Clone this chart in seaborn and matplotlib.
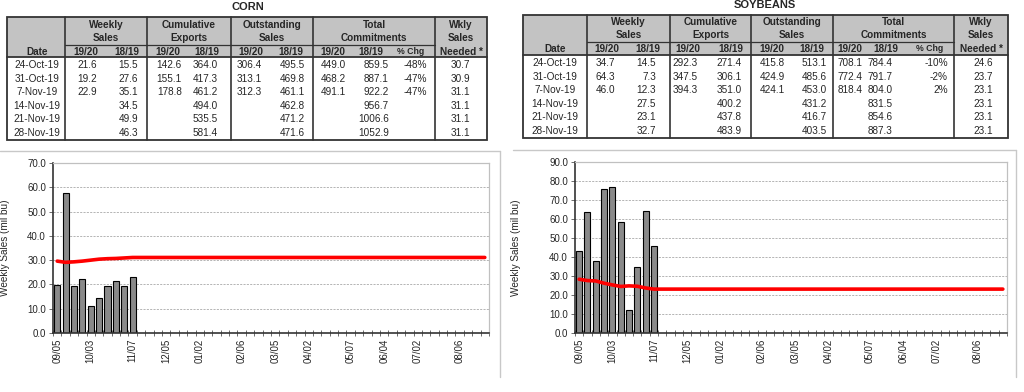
import numpy as np
import pandas as pd
import seaborn as sns
import matplotlib.pyplot as plt
from matplotlib.patches import Rectangle

sns.set_theme(style="white")
plt.rcParams['font.family'] = ['Liberation Sans', 'DejaVu Sans']

# ---- chart data ----
weeks = ['09/05', '09/12', '09/19', '09/26', '10/03', '10/10', '10/17', '10/24', '10/31',
         '11/07', '11/14', '11/21', '11/28', '12/05', '12/12', '12/19', '12/26',
         '01/02', '01/09', '01/16', '01/23', '01/30', '02/06', '02/13', '02/20', '02/27',
         '03/05', '03/12', '03/19', '03/26', '04/02', '04/09', '04/16', '04/23', '04/30',
         '05/07', '05/14', '05/21', '05/28', '06/04', '06/11', '06/18', '06/25',
         '07/02', '07/09', '07/16', '07/23', '07/30', '08/06', '08/13', '08/20', '08/27']
tick_weeks = ['09/05', '10/03', '11/07', '12/05', '01/02', '02/06', '03/05', '04/02',
              '05/07', '06/04', '07/02', '08/06']

corn_sales = [19.6, 57.8, 19.4, 22.2, 11.1, 14.5, 19.3, 21.6, 19.2, 22.9]
corn_needed = [29.6, 29.1, 29.3, 29.6, 30.0, 30.4, 30.6, 30.7, 30.9, 31.1,
               31.1, 31.1, 31.1, 31.1, 31.1, 31.1, 31.1, 31.1, 31.1, 31.1, 31.1,
               31.1, 31.1, 31.1, 31.1, 31.1, 31.1, 31.1, 31.1, 31.1, 31.1, 31.1,
               31.1, 31.1, 31.1, 31.1, 31.1, 31.1, 31.1, 31.1, 31.1, 31.1, 31.1,
               31.1, 31.1, 31.1, 31.1, 31.1, 31.1, 31.1, 31.1, 31.1]

soy_sales = [42.9, 63.5, 37.9, 76.0, 76.9, 58.6, 12.3, 34.7, 64.3, 46.0]
soy_needed = [28.3, 27.6, 27.4, 26.2, 25.3, 24.5, 24.8, 24.6, 23.7, 23.1,
              23.1, 23.1, 23.1, 23.1, 23.1, 23.1, 23.1, 23.1, 23.1, 23.1, 23.1,
              23.1, 23.1, 23.1, 23.1, 23.1, 23.1, 23.1, 23.1, 23.1, 23.1, 23.1,
              23.1, 23.1, 23.1, 23.1, 23.1, 23.1, 23.1, 23.1, 23.1, 23.1, 23.1,
              23.1, 23.1, 23.1, 23.1, 23.1, 23.1, 23.1, 23.1, 23.1]

# ---- table data ----
dates = ['24-Oct-19', '31-Oct-19', '7-Nov-19', '14-Nov-19', '21-Nov-19', '28-Nov-19']
groups = [['Weekly', 'Sales'], ['Cumulative', 'Exports'], ['Outstanding', 'Sales'],
          ['Total', 'Commitments'], ['Wkly', 'Sales', 'Needed *']]
subheads = ['19/20', '18/19', '19/20', '18/19', '19/20', '18/19', '19/20', '18/19', '% Chg']

corn_cols = [
    ['21.6', '19.2', '22.9', '', '', ''],
    ['15.5', '27.6', '35.1', '34.5', '49.9', '46.3'],
    ['142.6', '155.1', '178.8', '', '', ''],
    ['364.0', '417.3', '461.2', '494.0', '535.5', '581.4'],
    ['306.4', '313.1', '312.3', '', '', ''],
    ['495.5', '469.8', '461.1', '462.8', '471.2', '471.6'],
    ['449.0', '468.2', '491.1', '', '', ''],
    ['859.5', '887.1', '922.2', '956.7', '1006.6', '1052.9'],
    ['-48%', '-47%', '-47%', '', '', ''],
]
corn_need = ['30.7', '30.9', '31.1', '31.1', '31.1', '31.1']

soy_cols = [
    ['34.7', '64.3', '46.0', '', '', ''],
    ['14.5', '7.3', '12.3', '27.5', '23.1', '32.7'],
    ['292.3', '347.5', '394.3', '', '', ''],
    ['271.4', '306.1', '351.0', '400.2', '437.8', '483.9'],
    ['415.8', '424.9', '424.1', '', '', ''],
    ['513.1', '485.6', '453.0', '431.2', '416.7', '403.5'],
    ['708.1', '772.4', '818.4', '', '', ''],
    ['784.4', '791.7', '804.0', '831.5', '854.6', '887.3'],
    ['-10%', '-2%', '2%', '', '', ''],
]
soy_need = ['24.6', '23.7', '23.1', '23.1', '23.1', '23.1']

fig = plt.figure(figsize=(10.24, 3.92), dpi=100)
fig.patch.set_facecolor('white')

# overlay in pixel coords for tables and panel frames
over = fig.add_axes([0, 0, 1, 1])
over.set_xlim(0, 1024)
over.set_ylim(392, 0)
over.axis('off')

line_col = '#333333'
fs = 7.2


def draw_table(title, title_xy, edges, ys, hdr_y, row0, sub_x, val_x, date_x, need_x,
               cols, need):
    top, mid, sub, bot = ys
    over.text(title_xy[0], title_xy[1], title, ha='center', va='center',
              fontsize=8, fontweight='bold')
    over.add_patch(Rectangle((edges[0], top), edges[-1] - edges[0], sub - top,
                             facecolor='#c3c3c3', edgecolor='none'))
    over.add_patch(Rectangle((edges[0], top), edges[-1] - edges[0], bot - top,
                             facecolor='none', edgecolor=line_col, lw=1.3))
    for x in edges[1:-1]:
        over.plot([x, x], [top, bot], color=line_col, lw=1.2)
    over.plot([edges[1], edges[-2]], [mid, mid], color=line_col, lw=0.9)
    over.plot([edges[0], edges[-1]], [sub, sub], color=line_col, lw=1.3)
    # group headers
    for g, lines in enumerate(groups):
        cx = (edges[g + 1] + edges[g + 2]) / 2
        for k, t in enumerate(lines):
            over.text(cx, hdr_y[k], t, ha='center', va='center', fontsize=fs,
                      fontweight='bold')
    over.text(date_x, hdr_y[2], 'Date', ha='center', va='center', fontsize=fs,
              fontweight='bold')
    for x, t in zip(sub_x, subheads):
        over.text(x, hdr_y[2], t, ha='center', va='center',
                  fontsize=6.3 if t == '% Chg' else fs, fontweight='bold')
    for i, d in enumerate(dates):
        y = row0 + 13.6 * i
        over.text(date_x, y, d, ha='center', va='center', fontsize=fs)
        for x, c in zip(val_x, cols):
            over.text(x, y, c[i], ha='right', va='center', fontsize=fs)
        over.text(need_x, y, need[i], ha='center', va='center', fontsize=fs)


draw_table('CORN', (248, 7), [7, 65, 147, 231, 313, 435, 487], (17, 45, 57, 140),
           [25, 38, 51.5], 65,
           [86, 127, 168, 207, 251, 291, 333, 371, 411],
           [97, 138, 182, 218, 262, 305, 346, 389, 427], 37, 460,
           corn_cols, corn_need)
draw_table('SOYBEANS', (765, 5), [523, 587, 670, 751, 833, 954, 1008], (15, 42, 55, 138),
           [22, 35, 48.5], 63,
           [607, 648, 688, 731, 772, 812, 850, 886, 930],
           [615, 656, 698, 742, 785, 827, 863, 893, 948], 555, 983,
           soy_cols, soy_need)

# panel frames
frame_col = '#c8c8c8'
over.plot([0, 500], [151, 151], color=frame_col, lw=1)
over.plot([500, 500], [151, 377], color=frame_col, lw=1)
over.plot([513, 1016], [150, 150], color=frame_col, lw=1)
over.plot([1016, 1016], [150, 377], color=frame_col, lw=1)


def draw_chart(rect, sales, needed, ymax, label_x):
    ax = fig.add_axes(rect)
    bars = pd.DataFrame({'week': weeks[:len(sales)], 'sales': sales})
    sns.barplot(data=bars, x='week', y='sales', order=weeks, color='#8a8a8a',
                saturation=1, edgecolor='black', linewidth=0.8, width=0.72, ax=ax)
    line = pd.DataFrame({'pos': np.arange(len(weeks)), 'needed': needed})
    sns.lineplot(data=line, x='pos', y='needed', color='#ff0000', linewidth=2.6, ax=ax)
    ax.set_xlim(-0.5, len(weeks) - 0.5)
    ax.set_ylim(0, ymax)
    ax.set_yticks(np.arange(0, ymax + 1, 10))
    ax.set_yticklabels([f'{v:.1f}' for v in np.arange(0, ymax + 1, 10)], fontsize=7)
    ax.set_xticks([weeks.index(w) for w in tick_weeks])
    ax.set_xticklabels(tick_weeks, rotation=90, fontsize=7)
    ax.set_xticks(np.arange(-0.5, len(weeks)), minor=True)
    ax.tick_params(axis='x', which='major', length=0, pad=4)
    ax.tick_params(axis='x', which='minor', length=4, direction='inout', width=0.6,
                   color='#555555', bottom=True)
    ax.tick_params(axis='y', length=3, width=0.6, color='#555555', pad=2, left=True)
    ax.yaxis.grid(True, linestyle=(0, (2.5, 1.5)), color='#a8a8a8', lw=0.6)
    ax.set_axisbelow(True)
    for s in ['left', 'bottom']:
        ax.spines[s].set_color('#333333')
        ax.spines[s].set_linewidth(1.2)
    for s in ['top', 'right']:
        ax.spines[s].set_color('#c0c0c0')
        ax.spines[s].set_linewidth(0.9)
    ax.set_xlabel('')
    ax.set_ylabel('Weekly Sales (mil bu)', fontsize=7.2)
    ax.yaxis.set_label_coords(label_x, 0.5)
    ax.set_facecolor('white')
    return ax


ax1 = draw_chart([53 / 1024, 1 - 333 / 392, 436 / 1024, 170 / 392], corn_sales,
                 corn_needed, 70, -0.098)
ax2 = draw_chart([575 / 1024, 1 - 333 / 392, 432 / 1024, 171 / 392], soy_sales,
                 soy_needed, 90, -0.125)

fig.savefig('out.png', dpi=100)
